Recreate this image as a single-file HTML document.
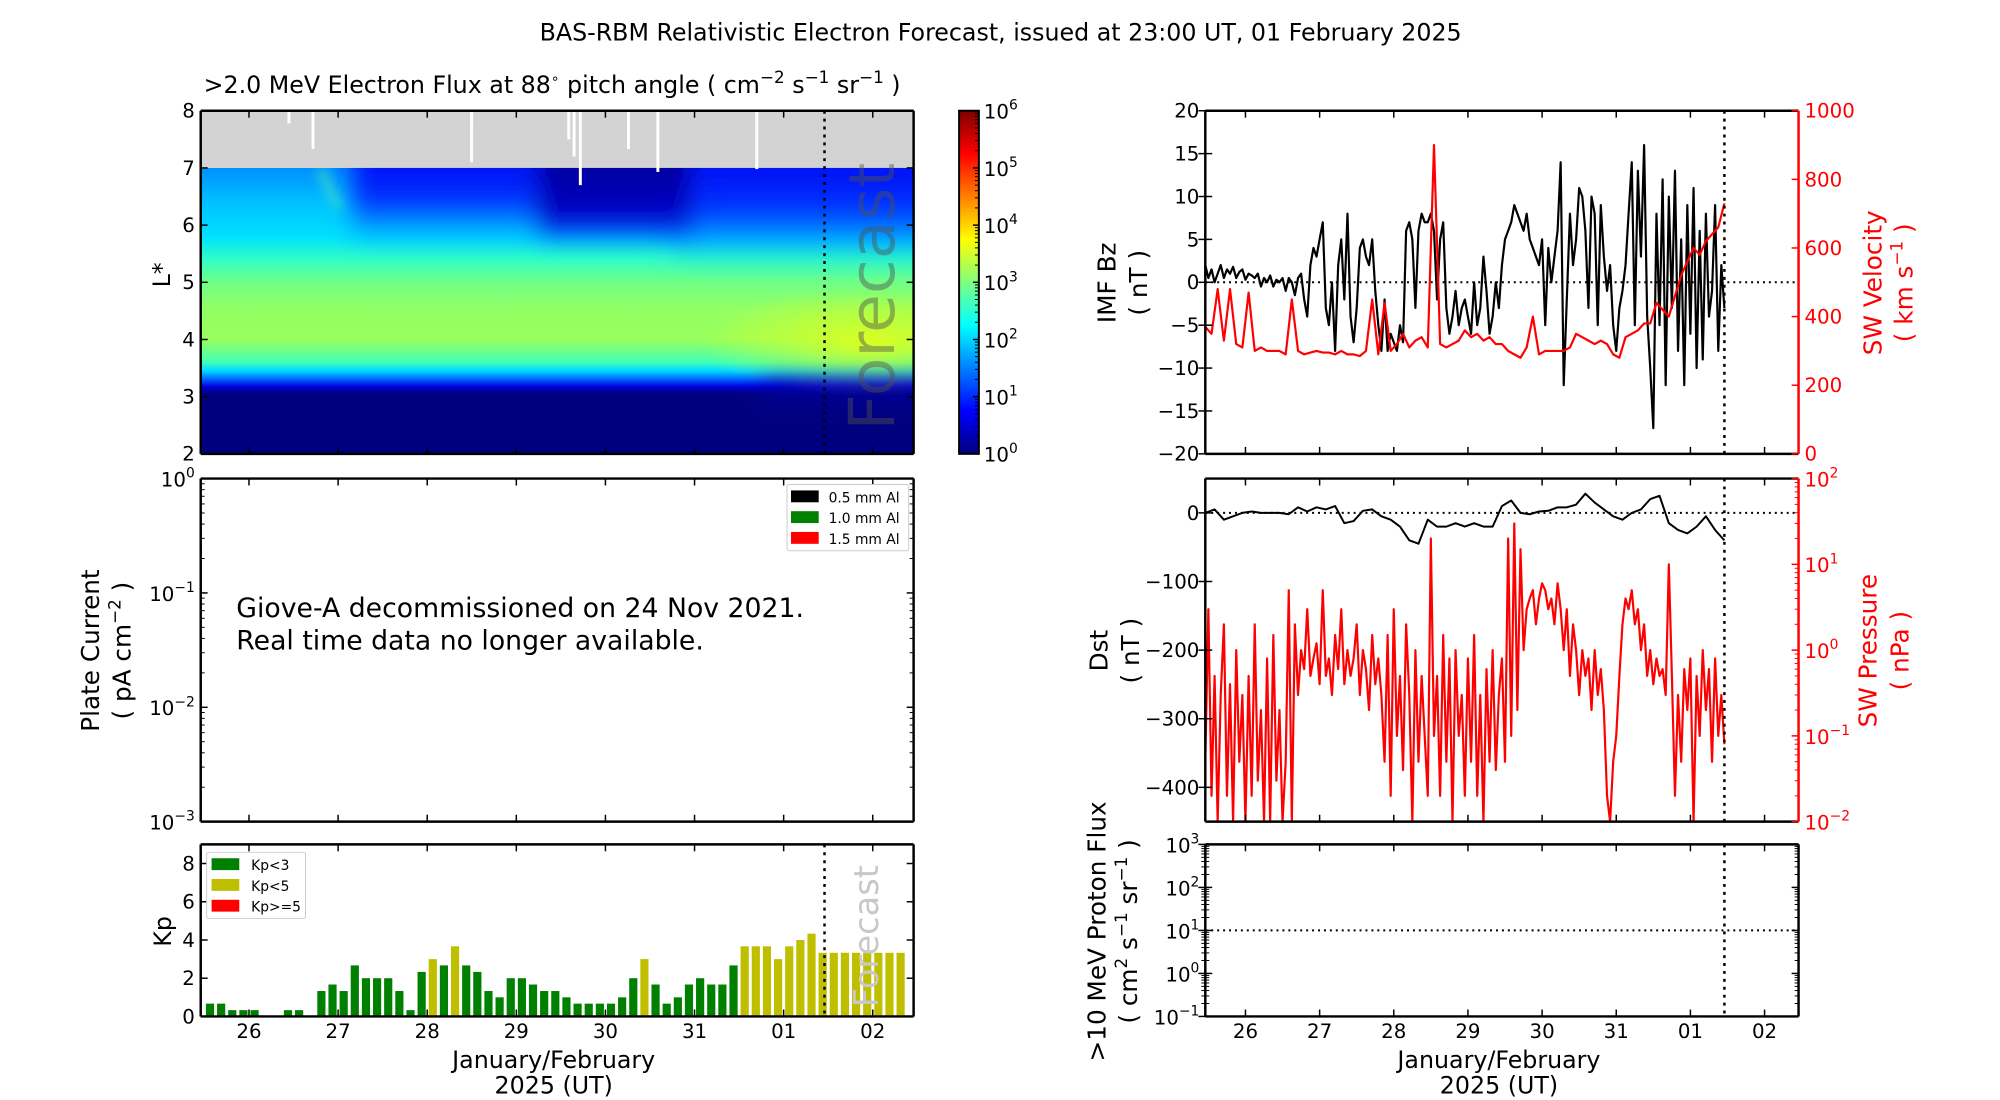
<!DOCTYPE html>
<html><head><meta charset="utf-8"><title>BAS-RBM Forecast</title>
<style>
html,body{margin:0;padding:0;background:#fff;}
svg{display:block;font-family:"DejaVu Sans","Liberation Sans",sans-serif;}
</style></head>
<body>
<svg id="fig" width="2000" height="1100" viewBox="0 0 2000 1100" xmlns="http://www.w3.org/2000/svg">
<defs>
<linearGradient id="jet" x1="0" y1="1" x2="0" y2="0">
<stop offset="0" stop-color="#00007f"/><stop offset="0.125" stop-color="#0000ff"/><stop offset="0.375" stop-color="#00ffff"/><stop offset="0.625" stop-color="#ffff00"/><stop offset="0.875" stop-color="#ff0000"/><stop offset="1" stop-color="#7f0000"/>
</linearGradient>
<linearGradient id="flux" x1="0" y1="1" x2="0" y2="0">
<stop offset="0" stop-color="#00007f"/><stop offset="0.21" stop-color="#00007f"/><stop offset="0.235" stop-color="#0000e0"/><stop offset="0.26" stop-color="#0060ff"/><stop offset="0.29" stop-color="#00d8ff"/><stop offset="0.32" stop-color="#40ffb8"/><stop offset="0.40" stop-color="#98ff5e"/><stop offset="0.50" stop-color="#94ff62"/><stop offset="0.60" stop-color="#70ff86"/><stop offset="0.68" stop-color="#30ffc6"/><stop offset="0.76" stop-color="#00e0ff"/><stop offset="0.88" stop-color="#00c0ff"/><stop offset="1" stop-color="#0090ff"/>
</linearGradient>
<linearGradient id="blueTop" x1="0" y1="0" x2="0" y2="1">
<stop offset="0" stop-color="#0000f0" stop-opacity="1"/><stop offset="0.55" stop-color="#0030ff" stop-opacity="1"/><stop offset="1" stop-color="#00a0ff" stop-opacity="0"/>
</linearGradient>
<linearGradient id="darkTop" x1="0" y1="0" x2="0" y2="1">
<stop offset="0" stop-color="#000090" stop-opacity="1"/><stop offset="0.7" stop-color="#0000c0" stop-opacity="1"/><stop offset="1" stop-color="#0000ff" stop-opacity="0.4"/>
</linearGradient>
<radialGradient id="yel" cx="0.5" cy="0.5" r="0.5">
<stop offset="0" stop-color="#e0ff1a" stop-opacity="0.9"/><stop offset="1" stop-color="#e0ff1a" stop-opacity="0"/>
</radialGradient>
<linearGradient id="bandDip" x1="0" y1="0" x2="0" y2="1">
<stop offset="0" stop-color="#00007f" stop-opacity="0"/><stop offset="0.4" stop-color="#0000c0" stop-opacity="0.8"/><stop offset="1" stop-color="#00007f" stop-opacity="1"/>
</linearGradient>
<filter id="blur" filterUnits="userSpaceOnUse" x="100" y="0" width="950" height="560"><feGaussianBlur stdDeviation="12"/></filter>
<filter id="blurS" filterUnits="userSpaceOnUse" x="100" y="0" width="950" height="560"><feGaussianBlur stdDeviation="6"/></filter>
<clipPath id="hmclip"><rect x="203" y="112" width="721" height="347"/></clipPath>
</defs>
<g id="root" transform="scale(0.98876)"></g>
</svg>
<script>
// ---------- data ----------
const dayLabels = ["26","27","28","29","30","31","01","02"];
const kpValues = [0.67,0.67,0.33,0.33,0.33,0,0,0.33,0.33,0,1.33,1.67,1.33,2.67,2,2,2,1.33,0.33,2.33,3,2.67,3.67,2.67,2.33,1.33,1,2,2,1.67,1.33,1.33,1,0.67,0.67,0.67,0.67,1,2,3,1.67,0.67,1,1.67,2,1.67,1.67,2.67,3.67,3.67,3.67,3,3.67,4,4.33,3.33,3.33,3.33,3.33,3.33,3.33,3.33,3.33];
const kpTicks = [0,2,4,6,8];
const bzValues = [2,0.5,1.5,0,1,2,0.5,1.5,1,1.8,0.5,1.2,1.5,0.3,1,0.8,0.5,1,-0.5,0.5,0,0.8,-0.5,0.3,
 0,0.5,-1,0.5,0,-1.5,0.5,1,-2,-4,2,4,3,5,7,-3,-5,0,-8,2,5,-2,8,-4,
 -7,-3,4,5,3,2,5,-1,-5,-8,-2,-8,-6,-7,-8,-5,-7,6,7,5,-3,6,8,7,
 7,8,6,-2,5,7,-3,-6,-4,-1,-5,-3,-2,-4,-6,0,-5,-3,3,-1,-6,-4,0,-3,
 2,5,6,7,9,8,7,6,8,5,4,3,2,5,-5,4,0,3,6,14,-12,-2,8,2,
 5,11,10,6,-3,10,8,-5,9,3,-1,2,-5,-8,-3,-1,2,8,14,-5,13,3,16,-4,
 -10,-17,8,-5,12,-12,10,-3,13,-8,5,-12,9,-6,11,-10,6,-9,8,-4,-1,9,-8,2,
 -3];
const velValues = [370,350,480,330,480,320,310,470,300,310,300,300,
 300,290,450,300,290,295,300,295,295,290,300,290,
 290,285,300,450,290,440,300,320,350,310,330,340,
 310,900,320,310,320,330,360,340,350,330,340,320,
 320,300,290,280,310,400,290,300,300,300,300,310,
 350,340,330,320,330,320,290,280,340,350,360,380,
 380,440,420,400,460,520,560,600,580,620,640,660,730];
const presValues = [0.05,3,0.02,0.5,0.01,0.3,2,0.02,0.4,0.01,1,0.05,0.3,0.01,0.5,0.02,2,0.03,0.2,0.01,0.8,0.01,1.5,0.03,
 0.2,0.01,0.05,5,0.01,2,0.3,1,0.6,3,0.5,0.8,1.2,0.4,5,0.5,0.8,0.3,1.5,0.6,3,0.4,1,0.5,
 0.8,2,0.3,1,0.6,0.2,1.5,0.4,0.8,0.3,0.05,1.5,0.02,3,0.1,0.5,0.04,2,0.3,0.01,1,0.05,0.5,0.1,
 0.02,20,0.1,0.5,0.02,1.5,0.05,0.8,0.01,1,0.1,0.3,0.02,0.8,0.05,1.5,0.02,0.3,0.01,0.6,0.05,1,0.04,0.3,
 0.8,0.05,20,0.1,30,0.2,15,1,3,4,5,2,4,6,5,3,4,2,6,3,1,3,0.5,2,
 1,0.3,1,0.5,0.8,0.2,1,0.3,0.6,0.2,0.02,0.01,0.05,0.1,0.5,2,4,3,5,2,3,1,2,0.5,
 1,0.4,0.8,0.5,0.6,0.3,10,0.5,0.02,0.3,0.05,0.6,0.2,0.8,0.01,0.5,0.1,1,0.2,0.6,0.05,0.8,0.1,0.3,
 0.08];
const dstValues = [0,5,-10,-5,0,2,0,0,
 0,-2,8,2,8,5,10,-15,
 -12,3,5,-5,-10,-20,-40,-45,
 -10,-20,-20,-15,-20,-15,-20,-20,
 10,18,0,-2,2,3,8,8,
 12,28,15,5,-5,-10,0,5,
 20,25,-15,-25,-30,-20,-5,-25,-40];
const bzTicks = [-20,-15,-10,-5,0,5,10,15,20];
const velTicks = [0,200,400,600,800,1000];
const dstTicks = [-400,-300,-200,-100,0];
const lTicks = [2,3,4,5,6,7,8];
const missingTimes = [0.99,1.26,3.04,4.13,4.19,4.26,4.8,5.13,6.24];
const missingLow = [7.78,7.33,7.1,7.5,7.2,6.7,7.33,6.93,6.98];

// ---------- helpers ----------
const NS = "http://www.w3.org/2000/svg";
const root = document.getElementById('root');
function mk(tag, attrs, parent){ const e=document.createElementNS(NS,tag); for(const k in attrs) e.setAttribute(k,attrs[k]); (parent||root).appendChild(e); return e; }
const L = {x0:203,x1:924}, R = {x0:1219,x1:1819};
const T_START = 0, T_END = 8, DAY0 = 13/24;
function xs(t,p){ return p.x0 + (t-T_START)/(T_END-T_START)*(p.x1-p.x0); }
function lin(v,a,b,y0,y1){ return y1 - (v-a)/(b-a)*(y1-y0); }
function logy(v,a,b,y0,y1){ return y1 - (Math.log10(v)-a)/(b-a)*(y1-y0); }
function txt(x,y,s,size,attrs,parent){ const e=mk('text',Object.assign({x:x,y:y,'font-size':size},attrs||{}),parent); e.textContent=s; return e; }
function supTxt(x,y,base,exp,size,anchor,color,parent){
  const e=mk('text',{x:x,y:y,'font-size':size,'text-anchor':anchor||'end',fill:color||'#000'},parent);
  const a=mk('tspan',{},e); a.textContent=base;
  const b=mk('tspan',{dy:-size*0.45,'font-size':size*0.7},e); b.textContent=exp;
  return e;
}
function frame(p,y0,y1,name,rightColor){
  const g=mk('g',{});
  
  
  mk('line',{x1:p.x0,y1:y0,x2:p.x1,y2:y0,stroke:'#000','stroke-width':2.5},g);
  mk('line',{x1:p.x0,y1:y1,x2:p.x1,y2:y1,stroke:'#000','stroke-width':2.5},g);
  mk('line',{x1:p.x0,y1:y0,x2:p.x0,y2:y1,stroke:'#000','stroke-width':2.5},g);
  mk('line',{x1:p.x1,y1:y0,x2:p.x1,y2:y1,stroke:rightColor||'#000','stroke-width':2.5},g);
  return g;
}
function xTicks(p,y0,y1,labels){
  const g=mk('g',{});
  
  
  for(let k=0;k<dayLabels.length;k++){
    const x=xs(DAY0+k,p);
    mk('line',{x1:x,y1:y1,x2:x,y2:y1-7,stroke:'#000','stroke-width':1.5},g);
    mk('line',{x1:x,y1:y0,x2:x,y2:y0+7,stroke:'#000','stroke-width':1.5},g);
    if(labels){ const t=txt(x,y1+22,dayLabels[k],20,{'text-anchor':'middle'},g);
      
       }
  }
}
function yTickLin(p,ticks,a,b,y0,y1,side,color,fmt){
  const g=mk('g',{});
  
  
  ticks.forEach(v=>{
    const y=lin(v,a,b,y0,y1);
    const x = side==='left'?p.x0:p.x1;
    const d = side==='left'?7:-7;
    mk('line',{x1:x,y1:y,x2:x+d,y2:y,stroke:color||'#000','stroke-width':1.5},g);
    if(side==='left') mk('line',{x1:p.x1,y1:y,x2:p.x1-7,y2:y,stroke:'#000','stroke-width':1.5},g);
    const s = fmt?fmt(v):String(v).replace('-','\u2212');
    txt(side==='left'?x-6:x+6,y+7,s,20,{'text-anchor':side==='left'?'end':'start',fill:color||'#000'},g);
  });
}
function yTickLog(p,a,b,y0,y1,side,color,labels){
  const g=mk('g',{});
  
  
  const x = side==='left'?p.x0:p.x1, d = side==='left'?1:-1;
  for(let e=a;e<=b;e++){
    const y=logy(Math.pow(10,e),a,b,y0,y1);
    mk('line',{x1:x,y1:y,x2:x+7*d,y2:y,stroke:color,'stroke-width':1.5},g);
    if(side==='left') mk('line',{x1:p.x1,y1:y,x2:p.x1-7,y2:y,stroke:'#000','stroke-width':1.5},g);
    if(labels) supTxt(side==='left'?x-6:x+6,y+8,'10',String(e).replace('-','\u2212'),20,side==='left'?'end':'start',color,g);
    if(e<b) for(let m=2;m<10;m++){
      const ym=logy(m*Math.pow(10,e),a,b,y0,y1);
      mk('line',{x1:x,y1:ym,x2:x+4*d,y2:ym,stroke:color,'stroke-width':1},g);
      if(side==='left') mk('line',{x1:p.x1,y1:ym,x2:p.x1-4,y2:ym,stroke:'#000','stroke-width':1},g);
    }
  }
}
function vlabel(x,y,s,size,color,name){
  const t=txt(0,0,s,size,{'text-anchor':'middle',fill:color||'#000',transform:`translate(${x},${y}) rotate(-90)`});
  
  
  return t;
}
function forecastLine(p,y0,y1){
  const x=xs(7,p);
  const l=mk('line',{x1:x,y1:y0,x2:x,y2:y1,stroke:'#000','stroke-width':2.5,'stroke-dasharray':'3,5'});
  
  
}

// ---------- titles ----------
let e = txt(1012,41,'BAS-RBM Relativistic Electron Forecast, issued at 23:00 UT, 01 February 2025',24,{'text-anchor':'middle'});


e = mk('text',{x:206,y:94,'font-size':24});


e.innerHTML = '&gt;2.0 MeV Electron Flux at 88<tspan dy="-10" font-size="14">\u2218</tspan><tspan dy="10">  pitch angle ( cm</tspan><tspan dy="-10" font-size="17">\u22122</tspan><tspan dy="10"> s</tspan><tspan dy="-10" font-size="17">\u22121</tspan><tspan dy="10"> sr</tspan><tspan dy="-10" font-size="17">\u22121</tspan><tspan dy="10"> )</tspan>';

// ---------- heatmap ----------
const hm = mk('g',{'clip-path':'url(#hmclip)'});


const yL = v=>lin(v,2,8,112,459);
mk('rect',{x:L.x0,y:yL(7),width:L.x1-L.x0,height:yL(2)-yL(7),fill:'url(#flux)'},hm);
mk('ellipse',{cx:xs(7.5,L),cy:yL(3.95),rx:170,ry:55,fill:'url(#yel)'},hm);
const ov = mk('g',{filter:'url(#blur)'},hm);
mk('rect',{x:xs(1.7,L),y:yL(7.4),width:xs(8.6,L)-xs(1.7,L),height:yL(5.6)-yL(7.4),fill:'url(#blueTop)'},ov);
mk('rect',{x:xs(5.3,L),y:yL(7.4),width:xs(8.6,L)-xs(5.3,L),height:yL(5.3)-yL(7.4),fill:'url(#blueTop)',opacity:0.8},ov);
mk('rect',{x:xs(3.78,L),y:yL(7.4),width:xs(5.5,L)-xs(3.78,L),height:yL(5.75)-yL(7.4),fill:'url(#darkTop)'},ov);
mk('rect',{x:xs(6.3,L),y:yL(3.35),width:xs(8.6,L)-xs(6.3,L),height:yL(2.9)-yL(3.35),fill:'url(#bandDip)'},ov);
mk('line',{x1:xs(1.33,L),y1:yL(7),x2:xs(1.55,L),y2:yL(6.3),stroke:'#60ffa0','stroke-width':6,opacity:0.7,filter:'url(#blurS)'},hm);
mk('rect',{x:L.x0,y:yL(8),width:L.x1-L.x0,height:yL(7)-yL(8),fill:'#d3d3d3'},hm);
missingTimes.forEach((t,i)=>{
  const l=mk('line',{x1:xs(t,L),y1:yL(8),x2:xs(t,L),y2:yL(missingLow[i]),stroke:'#fff','stroke-width':3},hm);
  
  
});
e = txt(0,0,'Forecast',64,{fill:'#505050','fill-opacity':0.45,'text-anchor':'middle',transform:`translate(${xs(7.78,L)},${yL(4.75)}) rotate(-90)`},hm);


frame(L,112,459,'heatmap');
xTicks(L,112,459,false);
yTickLin(L,lTicks,2,8,112,459,'left');
forecastLine(L,112,459);
vlabel(172,278,'L*',24,'#000','l-star-axis-title');

// colorbar
const cb = mk('g',{});


mk('rect',{x:970,y:112,width:20,height:347,fill:'url(#jet)',stroke:'#000','stroke-width':2},cb);
for(let k=0;k<=6;k++){
  const y=lin(k,0,6,112,459);
  mk('line',{x1:990,y1:y,x2:984,y2:y,stroke:'#000','stroke-width':1.5},cb);
  supTxt(995,y+8,'10',String(k),20,'start','#000',cb);
  if(k<6) for(let m=2;m<10;m++){ const ym=lin(k+Math.log10(m),0,6,112,459); mk('line',{x1:990,y1:ym,x2:986,y2:ym,stroke:'#000','stroke-width':1},cb); }
}

// ---------- plate current ----------
frame(L,484,831,'plate-current');
xTicks(L,484,831,false);
yTickLog(L,-3,0,484,831,'left','#000',true);
vlabel(100,658,'Plate Current',25,'#000','plate-current-axis-title');
e = mk('text',{x:0,y:0,'font-size':25,'text-anchor':'middle',transform:'translate(132,658) rotate(-90)'});


e.innerHTML='( pA cm<tspan dy="-10" font-size="17">\u22122</tspan><tspan dy="10"> )</tspan>';
e = txt(239,624,'Giove-A decommissioned on 24 Nov 2021.',27,{});


e = txt(239,657,'Real time data no longer available.',27,{});


const pl = mk('g',{});


mk('rect',{x:796,y:490,width:123,height:67,fill:'#fff',stroke:'#ccc','stroke-width':1,rx:2},pl);
[['0.5 mm Al','#000'],['1.0 mm Al','#008000'],['1.5 mm Al','#ff0000']].forEach((it,i)=>{
  const y=496+i*21;
  mk('rect',{x:800,y:y,width:28,height:12,fill:it[1]},pl);
  txt(838,y+12,it[0],14,{},pl);
});

// ---------- Kp ----------
const yK = v=>lin(v,0,9,854,1028);
const kpG = mk('g',{});


kpValues.forEach((v,i)=>{
  const t0=(1+3*i)/24, t1=(1+3*(i+1))/24;
  const x0=xs(t0,L)+1.5, x1=Math.min(xs(t1,L),L.x1)-1.5;
  const col = v<3?'#008000':(v<5?'#bfbf00':'#ff0000');
  const r=mk('rect',{x:x0,y:yK(v),width:Math.max(0,x1-x0),height:yK(0)-yK(v),fill:col},kpG);
  
  
});
e = txt(0,0,'Forecast',34,{fill:'#c8c8c8','text-anchor':'middle',transform:`translate(${xs(7.6,L)},${yK(4.2)}) rotate(-90)`});


frame(L,854,1028,'kp');
xTicks(L,854,1028,true);
yTickLin(L,kpTicks,0,9,854,1028,'left');
forecastLine(L,854,1028);
vlabel(173,942,'Kp',24,'#000','kp-axis-title');
const kl = mk('g',{});


mk('rect',{x:209,y:862,width:100,height:67,fill:'#fff',stroke:'#ccc','stroke-width':1,rx:2},kl);
[['Kp<3','#008000'],['Kp<5','#bfbf00'],['Kp>=5','#ff0000']].forEach((it,i)=>{
  const y=868+i*21;
  mk('rect',{x:214,y:y,width:28,height:12,fill:it[1]},kl);
  txt(254,y+12,it[0],14,{},kl);
});
e = txt(560,1080,'January/February',24,{'text-anchor':'middle'});


e = txt(560,1106,'2025 (UT)',24,{'text-anchor':'middle'});



// ---------- IMF Bz / SW velocity ----------
function series(vals,step,p,yf,color,name,w){
  const pts=vals.map((v,i)=>xs(i*step,p).toFixed(1)+','+yf(v).toFixed(1)).join(' ');
  const l=mk('polyline',{points:pts,fill:'none',stroke:color,'stroke-width':w||2,'stroke-linejoin':'round'});
  
  
}
const yBz = v=>lin(v,-20,20,112,459), yV = v=>lin(v,0,1000,112,459);
e = mk('line',{x1:R.x0,y1:yBz(0),x2:R.x1,y2:yBz(0),stroke:'#000','stroke-width':2,'stroke-dasharray':'2,4'});


series(bzValues,1/24,R,yBz,'#000','imf-bz-line',2.2);
series(velValues,1/12,R,yV,'#ff0000','sw-velocity-line',2.2);
frame(R,112,459,'imf','#ff0000');
xTicks(R,112,459,false);
yTickLin({x0:R.x0,x1:R.x0},bzTicks,-20,20,112,459,'left');
yTickLin(R,velTicks,0,1000,112,459,'right','#ff0000');
forecastLine(R,112,459);
vlabel(1128,286,'IMF Bz',25,'#000','imf-bz-axis-title');
vlabel(1160,286,'( nT )',25,'#000','imf-bz-units');
vlabel(1903,286,'SW Velocity',25,'#ff0000','sw-velocity-axis-title');
e = mk('text',{x:0,y:0,'font-size':25,'text-anchor':'middle',fill:'#ff0000',transform:'translate(1934,286) rotate(-90)'});


e.innerHTML='( km s<tspan dy="-10" font-size="17">\u22121</tspan><tspan dy="10"> )</tspan>';

// ---------- Dst / SW pressure ----------
const yD = v=>lin(v,-450,50,484,831), yP = v=>logy(v,-2,2,484,831);
series(presValues,1/24,R,v=>Math.min(831,yP(v)),'#ff0000','sw-pressure-line',2.2);
e = mk('line',{x1:R.x0,y1:yD(0),x2:R.x1,y2:yD(0),stroke:'#000','stroke-width':2,'stroke-dasharray':'2,4'});


series(dstValues,1/8,R,yD,'#000','dst-line');
frame(R,484,831,'dst','#ff0000');
xTicks(R,484,831,false);
yTickLin({x0:R.x0,x1:R.x0},dstTicks,-450,50,484,831,'left');
yTickLog(R,-2,2,484,831,'right','#ff0000',true);
forecastLine(R,484,831);
vlabel(1120,658,'Dst',25,'#000','dst-axis-title');
vlabel(1152,658,'( nT )',25,'#000','dst-units');
vlabel(1898,658,'SW Pressure',25,'#ff0000','sw-pressure-axis-title');
vlabel(1930,658,'( nPa )',25,'#ff0000','sw-pressure-units');

// ---------- proton flux ----------
const yPr = v=>logy(v,-1,3,854,1028);
e = mk('line',{x1:R.x0,y1:yPr(10),x2:R.x1,y2:yPr(10),stroke:'#000','stroke-width':2,'stroke-dasharray':'2,4'});


frame(R,854,1028,'proton');
xTicks(R,854,1028,true);
yTickLog({x0:R.x0,x1:R.x0},-1,3,854,1028,'left','#000',true);
yTickLog(R,-1,3,854,1028,'right','#000',false);
forecastLine(R,854,1028);
vlabel(1118,942,'>10 MeV Proton Flux',25,'#000','proton-flux-axis-title');
e = mk('text',{x:0,y:0,'font-size':25,'text-anchor':'middle',transform:'translate(1150,942) rotate(-90)'});


e.innerHTML='( cm<tspan dy="-10" font-size="17">2</tspan><tspan dy="10"> s</tspan><tspan dy="-10" font-size="17">\u22121</tspan><tspan dy="10"> sr</tspan><tspan dy="-10" font-size="17">\u22121</tspan><tspan dy="10"> )</tspan>';
e = txt(1516,1080,'January/February',24,{'text-anchor':'middle'});


e = txt(1516,1106,'2025 (UT)',24,{'text-anchor':'middle'});


</script>
</body></html>
